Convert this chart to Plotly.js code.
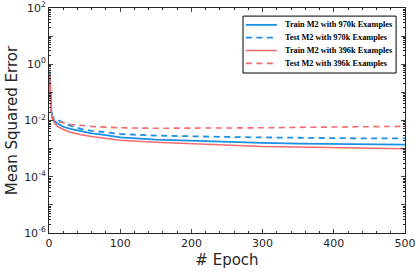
<!DOCTYPE html>
<html><head><meta charset="utf-8">
<script src="https://cdn.plot.ly/plotly-3.0.1.min.js"></script>
<style>html,body{margin:0;padding:0;background:#fff}#chart{width:416px;height:272px}</style>
</head><body><div id="chart"></div>
<script>
const epochs = [1,2,3,5,8,12,20,30,45,60,80,100,150,200,250,300,350,400,450,500];
const trainM2_970k = [0.5,0.08,0.025,0.013,0.0095,0.0078,0.006,0.005,0.0041,0.0035,0.003,0.0025,0.0021,0.0019,0.0017,0.0016,0.0015,0.00148,0.00142,0.00138];
const testM2_970k  = [0.55,0.1,0.03,0.013,0.011,0.0105,0.0085,0.0065,0.005,0.0043,0.0038,0.0033,0.0029,0.0027,0.0026,0.0025,0.0024,0.0024,0.0023,0.0023];
const trainM2_396k = [0.45,0.06,0.02,0.011,0.008,0.0062,0.0048,0.0038,0.0031,0.0027,0.0023,0.002,0.0017,0.0015,0.0013,0.0012,0.00115,0.0011,0.00105,0.001];
const testM2_396k  = [0.45,0.06,0.02,0.011,0.0095,0.009,0.0085,0.0072,0.0066,0.0062,0.0058,0.0055,0.0053,0.0053,0.0054,0.0055,0.0057,0.0059,0.006,0.0062];
const seriesNames = ["Train M2 with 970k Examples","Test M2 with 970k Examples","Train M2 with 396k Examples","Test M2 with 396k Examples"];
const yDecades = [-6,-5,-4,-3,-2,-1,0,1,2];
const yTickText = ["10<sup>-6</sup>","","10<sup>-4</sup>","","10<sup>-2</sup>","","10<sup>0</sup>","","10<sup>2</sup>"];
const xTickVals = [0,100,200,300,400,500];

const blue = '#1a8fe8', red = '#f26a6e';
const colors = [blue, blue, red, red];
const dashes = ['solid','6px,4.5px','solid','6px,4.5px'];
const widths = [1.8,1.8,1.5,1.6];
const seriesData = [trainM2_970k, testM2_970k, trainM2_396k, testM2_396k];

const traces = seriesData.map((ys,i)=>({x: epochs, y: ys, name: seriesNames[i], mode:'lines',
  line:{color:colors[i], width:widths[i], dash:dashes[i]}}));

const yTickVals = yDecades.map(d=>Math.pow(10,d));
const yMinor = [];
yDecades.slice(0,-1).forEach(d=>{for(let k=2;k<=9;k++) yMinor.push(k*Math.pow(10,d));});

// manual legend (paper coordinates)
const shapes = [{type:'rect', xref:'paper', yref:'paper', x0:0.545, x1:0.975, y0:0.711, y1:0.964,
  line:{color:'#000', width:1}, fillcolor:'#fff', layer:'above'}];
const annotations = [];
const rowY = [0.925, 0.868, 0.811, 0.754];
seriesNames.forEach((n,i)=>{
  shapes.push({type:'line', xref:'paper', yref:'paper', x0:0.553, x1:0.640, y0:rowY[i], y1:rowY[i],
    line:{color:colors[i], width:widths[i], dash:dashes[i]}, layer:'above'});
  annotations.push({xref:'paper', yref:'paper', x:0.656, y:rowY[i], xanchor:'left', yanchor:'middle',
    text:'<b>'+n+'</b>', showarrow:false, font:{family:'Liberation Serif', size:8.3, color:'#000'}});
});

const layout = {
  width:416, height:272,
  margin:{l:49,r:11,t:8,b:39},
  paper_bgcolor:'#fff', plot_bgcolor:'#fff',
  font:{family:'DejaVu Sans', size:11, color:'#262626'},
  showlegend:false,
  shapes: shapes, annotations: annotations,
  xaxis:{range:[0,500], tickvals:xTickVals, ticks:'inside', ticklen:4, showline:true, linecolor:'#262626', linewidth:1,
         mirror:'ticks', showgrid:false, zeroline:false, tickfont:{size:11},
         minor:{dtick:20, ticks:'inside', ticklen:2, showgrid:false, tickcolor:'#262626'},
         title:{text:'# Epoch', font:{size:15}, standoff:5}},
  yaxis:{type:'log', range:[-6,2], tickvals:yTickVals, ticktext:yTickText, ticks:'inside', ticklen:4, showline:true,
         linecolor:'#262626', linewidth:1, mirror:'ticks', showgrid:false, zeroline:false, tickfont:{size:11},
         minor:{tickmode:'array', tickvals:yMinor, ticks:'inside', ticklen:2, showgrid:false, tickcolor:'#262626'},
         title:{text:'Mean Squared Error', font:{size:15}, standoff:2}}
};
Plotly.newPlot('chart', traces, layout, {staticPlot:true, displayModeBar:false});
</script></body></html>
